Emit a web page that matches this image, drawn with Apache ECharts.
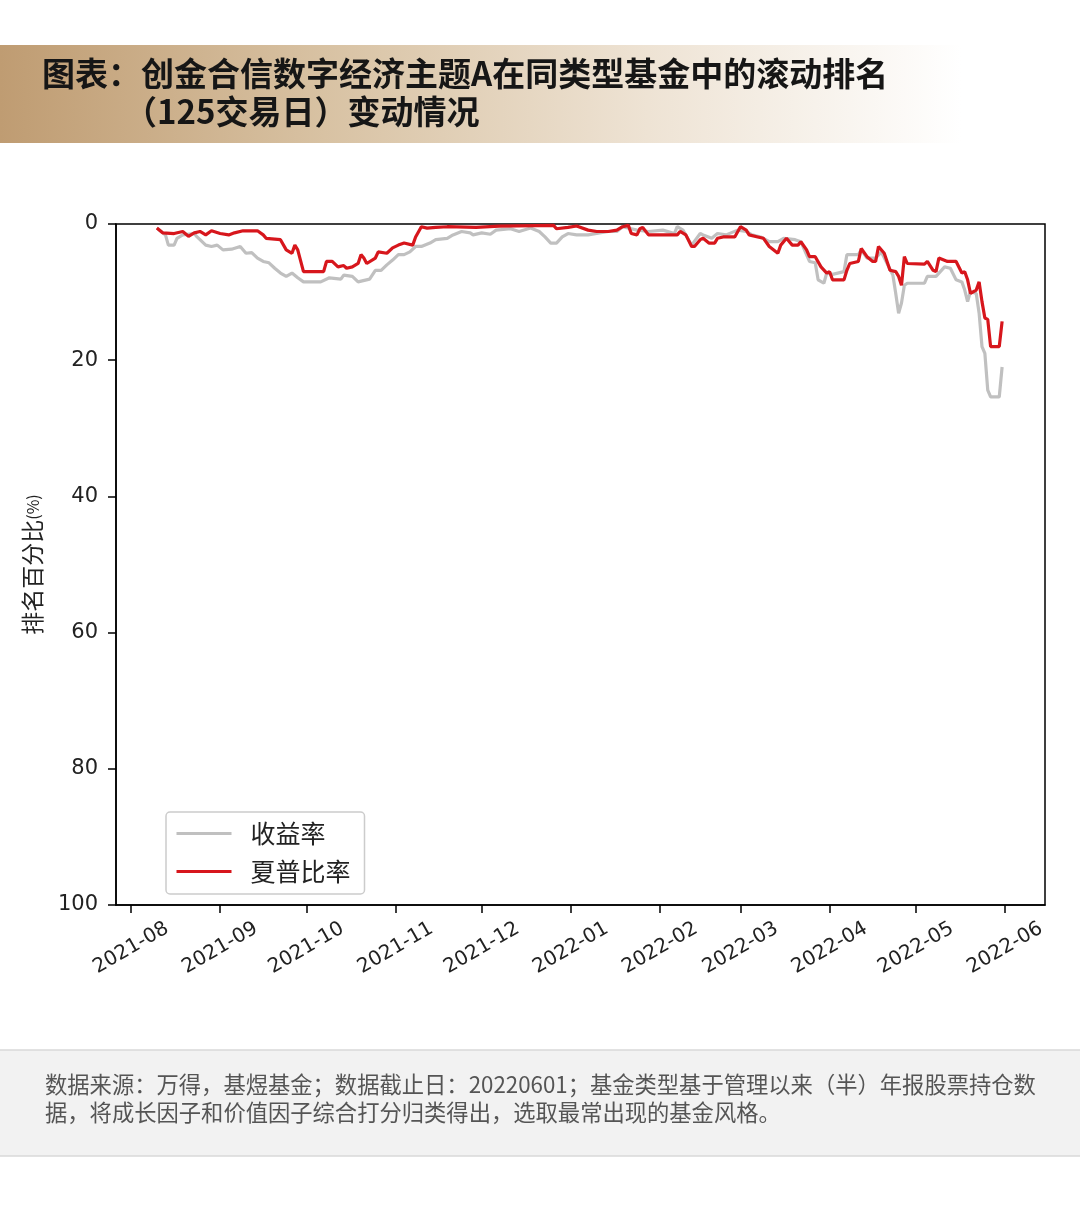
<!DOCTYPE html>
<html>
<head>
<meta charset="utf-8">
<title>滚动排名</title>
<script src="https://cdn.jsdelivr.net/npm/echarts@6/dist/echarts.min.js"></script>
<style>
  html, body { margin: 0; padding: 0; background: #fff; }
  #chart { width: 1080px; height: 1206px; }
</style>
</head>
<body>
<div id="chart"></div>
<script>
// 收益率 排名百分比
const retDates = [
  '2021-08-10','2021-08-13','2021-08-14','2021-08-16','2021-08-17','2021-08-19','2021-08-23','2021-08-24',
  '2021-08-27','2021-08-29','2021-08-31','2021-09-02','2021-09-05','2021-09-08','2021-09-10','2021-09-12',
  '2021-09-14','2021-09-16','2021-09-18','2021-09-20','2021-09-22','2021-09-24','2021-09-26','2021-09-28',
  '2021-09-30','2021-10-06','2021-10-09','2021-10-13','2021-10-14','2021-10-17','2021-10-19','2021-10-23',
  '2021-10-25','2021-10-27','2021-10-29','2021-10-31','2021-11-02','2021-11-04','2021-11-06','2021-11-08',
  '2021-11-10','2021-11-13','2021-11-15','2021-11-19','2021-11-21','2021-11-24','2021-11-27','2021-11-28',
  '2021-12-01','2021-12-04','2021-12-06','2021-12-11','2021-12-14','2021-12-18','2021-12-21','2021-12-23',
  '2021-12-25','2021-12-27','2021-12-29','2021-12-31','2022-01-03','2022-01-07','2022-01-10','2022-01-14',
  '2022-01-17','2022-01-19','2022-01-24','2022-01-28','2022-02-02','2022-02-06','2022-02-07','2022-02-09',
  '2022-02-12','2022-02-15','2022-02-16','2022-02-19','2022-02-21','2022-02-24','2022-02-28','2022-03-03',
  '2022-03-05','2022-03-08','2022-03-11','2022-03-14','2022-03-16','2022-03-20','2022-03-22','2022-03-25',
  '2022-03-27','2022-03-28','2022-03-30','2022-03-31','2022-04-02','2022-04-06','2022-04-07','2022-04-11',
  '2022-04-12','2022-04-14','2022-04-17','2022-04-19','2022-04-21','2022-04-23','2022-04-24','2022-04-25',
  '2022-04-26','2022-04-27','2022-04-28','2022-05-04','2022-05-05','2022-05-08','2022-05-11','2022-05-13',
  '2022-05-15','2022-05-17','2022-05-18','2022-05-19','2022-05-20','2022-05-22','2022-05-23','2022-05-24',
  '2022-05-25','2022-05-26','2022-05-27','2022-05-30','2022-05-31'
];
const retValues = [
  0.6, 1.6, 3.1, 3.1, 2.1, 1.6, 1.4, 1.9,
  3.1, 3.3, 3.1, 3.8, 3.7, 3.3, 4.3, 4.2,
  5.0, 5.5, 5.7, 6.5, 7.2, 7.7, 7.2, 7.9,
  8.5, 8.5, 7.9, 8.1, 7.5, 7.7, 8.5, 8.1,
  6.8, 6.8, 6.0, 5.3, 4.5, 4.5, 4.1, 3.3,
  3.3, 2.8, 2.3, 2.1, 1.6, 1.1, 1.3, 1.6,
  1.3, 1.5, 0.9, 0.7, 1.1, 0.6, 1.1, 1.9,
  2.8, 2.8, 1.9, 1.4, 1.6, 1.6, 1.4, 1.1,
  1.1, 0.4, 0.9, 1.1, 0.9, 1.4, 0.4, 0.9,
  3.1, 1.4, 1.6, 2.1, 1.4, 1.6, 0.9, 1.1,
  1.6, 1.9, 2.6, 2.6, 2.1, 2.3, 2.6, 5.5,
  5.7, 8.2, 8.7, 7.2, 7.4, 7.0, 4.5, 4.5,
  3.8, 5.0, 5.0, 4.1, 5.8, 7.5, 10.2, 13.1,
  11.6, 9.0, 8.7, 8.7, 7.7, 7.7, 6.3, 6.5,
  8.2, 8.5, 9.7, 11.4, 9.9, 10.2, 13.1, 18.0,
  19.0, 24.4, 25.4, 25.4, 21.0
];

// 夏普比率 排名百分比
const sharpeDates = [
  '2021-08-10','2021-08-12','2021-08-16','2021-08-19','2021-08-21','2021-08-23','2021-08-25','2021-08-27',
  '2021-08-29','2021-09-01','2021-09-04','2021-09-06','2021-09-09','2021-09-14','2021-09-16','2021-09-17',
  '2021-09-22','2021-09-24','2021-09-26','2021-09-27','2021-09-28','2021-09-30','2021-10-07','2021-10-08',
  '2021-10-10','2021-10-12','2021-10-14','2021-10-15','2021-10-17','2021-10-19','2021-10-20','2021-10-21',
  '2021-10-22','2021-10-25','2021-10-26','2021-10-29','2021-10-31','2021-11-02','2021-11-04','2021-11-07',
  '2021-11-08','2021-11-10','2021-11-12','2021-11-15','2021-11-19','2021-11-29','2021-12-07','2021-12-26',
  '2021-12-27','2021-12-31','2022-01-03','2022-01-07','2022-01-10','2022-01-14','2022-01-17','2022-01-19',
  '2022-01-21','2022-01-22','2022-01-24','2022-01-25','2022-01-26','2022-01-28','2022-02-01','2022-02-07',
  '2022-02-08','2022-02-10','2022-02-12','2022-02-13','2022-02-15','2022-02-16','2022-02-18','2022-02-20',
  '2022-02-21','2022-02-23','2022-02-27','2022-03-01','2022-03-03','2022-03-04','2022-03-07','2022-03-09',
  '2022-03-11','2022-03-14','2022-03-15','2022-03-17','2022-03-19','2022-03-21','2022-03-22','2022-03-24',
  '2022-03-25','2022-03-27','2022-03-29','2022-03-31','2022-04-01','2022-04-02','2022-04-06','2022-04-07',
  '2022-04-08','2022-04-11','2022-04-12','2022-04-14','2022-04-16','2022-04-17','2022-04-18','2022-04-20',
  '2022-04-22','2022-04-24','2022-04-25','2022-04-26','2022-04-27','2022-04-28','2022-05-04','2022-05-05',
  '2022-05-07','2022-05-08','2022-05-09','2022-05-12','2022-05-15','2022-05-17','2022-05-18','2022-05-19',
  '2022-05-20','2022-05-22','2022-05-23','2022-05-24','2022-05-25','2022-05-26','2022-05-27','2022-05-30',
  '2022-05-31'
];
const sharpeValues = [
  0.6, 1.3, 1.4, 1.1, 1.8, 1.3, 1.1, 1.6,
  1.0, 1.4, 1.6, 1.3, 1.0, 1.0, 1.6, 2.1,
  2.3, 3.8, 4.3, 3.1, 3.8, 7.0, 7.0, 5.5,
  5.5, 6.3, 6.1, 6.5, 6.3, 5.8, 4.5, 5.0,
  5.8, 5.0, 4.1, 4.3, 3.5, 3.1, 2.8, 3.1,
  1.9, 0.4, 0.6, 0.5, 0.4, 0.5, 0.3, 0.2,
  0.7, 0.5, 0.3, 0.9, 1.1, 1.1, 0.9, 0.4,
  0.2, 1.4, 1.6, 0.7, 0.5, 1.6, 1.6, 1.6,
  1.1, 1.6, 3.3, 3.3, 2.3, 2.1, 2.8, 2.8,
  2.1, 1.9, 1.9, 0.4, 0.9, 1.6, 1.9, 2.1,
  3.3, 4.3, 3.1, 2.1, 3.1, 3.1, 2.6, 3.8,
  4.8, 4.8, 6.3, 7.2, 7.0, 8.2, 8.2, 6.8,
  5.8, 5.5, 3.6, 4.8, 5.5, 5.5, 3.3, 4.3,
  6.8, 7.0, 7.7, 9.0, 4.8, 5.8, 5.9, 5.5,
  6.8, 7.0, 5.0, 5.5, 5.5, 7.2, 7.0, 8.2,
  10.2, 9.7, 8.5, 11.4, 13.8, 14.0, 18.0, 18.0,
  14.3
];

const monthTicks = ['2021-08','2021-09','2021-10','2021-11','2021-12','2022-01',
                    '2022-02','2022-03','2022-04','2022-05','2022-06'];

const chart = echarts.init(document.getElementById('chart'));
const toTime = s => +echarts.time.parse(s);
const tickTimes = monthTicks.map(m => toTime(m + '-01'));
const baseFont = 'DejaVu Sans';
const cjkFont = 'Noto Sans CJK SC';

chart.setOption({
  backgroundColor: '#fff',
  animation: false,
  graphic: [
    {
      type: 'rect',
      shape: { x: 0, y: 45, width: 1080, height: 98 },
      style: {
        fill: new echarts.graphic.LinearGradient(0, 0, 1, 0, [
          { offset: 0, color: '#bf9c72' },
          { offset: 0.3, color: '#d8c2a3' },
          { offset: 0.6, color: '#eee3d4' },
          { offset: 0.89, color: '#ffffff' },
          { offset: 1, color: '#ffffff' }
        ])
      }
    },
    {
      type: 'text', left: 42, top: 57,
      style: { text: '图表：创金合信数字经济主题A在同类型基金中的滚动排名', font: 'bold 33px "Noto Sans CJK SC"', fill: '#161616' }
    },
    {
      type: 'text', left: 124, top: 95,
      style: { text: '（125交易日）变动情况', font: 'bold 33px "Noto Sans CJK SC"', fill: '#161616' }
    },
    {
      type: 'rect',
      shape: { x: -2, y: 1050, width: 1084, height: 106 },
      style: { fill: '#f2f2f2', stroke: '#d9d9d9', lineWidth: 1.5 }
    },
    {
      type: 'text', left: 45, top: 1073,
      style: { text: '数据来源：万得，基煜基金；数据截止日：20220601；基金类型基于管理以来（半）年报股票持仓数', font: '22.3px "Noto Sans CJK SC"', fill: '#555' }
    },
    {
      type: 'text', left: 45, top: 1101,
      style: { text: '据，将成长因子和价值因子综合打分归类得出，选取最常出现的基金风格。', font: '22.3px "Noto Sans CJK SC"', fill: '#555' }
    }
  ],
  grid: {
    left: 116, right: 35, top: 224, bottom: 301,
    show: true, borderColor: '#000', borderWidth: 1.5, backgroundColor: 'transparent'
  },
  legend: {
    orient: 'vertical',
    left: 166, top: 812,
    padding: [9, 14, 10, 9],
    itemWidth: 55, itemHeight: 14, itemGap: 13,
    backgroundColor: '#fff',
    borderColor: '#cccccc', borderWidth: 1.5, borderRadius: 4,
    itemStyle: { opacity: 0 },
    lineStyle: { width: 3 },
    textStyle: { fontSize: 25, lineHeight: 24, color: '#222', fontFamily: cjkFont, padding: [0, 0, 0, 14] },
    data: ['收益率', '夏普比率']
  },
  xAxis: {
    type: 'value',
    min: toTime('2021-07-26 19:00:00'),
    max: toTime('2022-06-14 22:00:00'),
    axisLine: { onZero: false, lineStyle: { color: '#000', width: 1.5 } },
    axisTick: { show: true, customValues: tickTimes, length: 8, lineStyle: { color: '#000', width: 1.5 } },
    axisLabel: {
      customValues: tickTimes,
      formatter: v => echarts.time.format(v, '{yyyy}-{MM}', false),
      rotate: 30, align: 'center', verticalAlign: 'middle', margin: 43,
      fontSize: 20, color: '#222', fontFamily: baseFont
    },
    splitLine: { show: false }
  },
  yAxis: {
    type: 'value',
    inverse: true,
    min: 0, max: 100, interval: 20,
    name: '排名百分比{s|(%)}',
    nameLocation: 'middle',
    nameRotate: 90,
    nameGap: 72,
    nameTextStyle: {
      fontSize: 23, color: '#222', fontFamily: cjkFont,
      rich: { s: { fontSize: 16, color: '#222', fontFamily: cjkFont } }
    },
    axisLine: { show: true, onZero: false, lineStyle: { color: '#000', width: 1.5 } },
    axisTick: { show: true, length: 8, lineStyle: { color: '#000', width: 1.5 } },
    axisLabel: { fontSize: 21, color: '#222', margin: 18, fontFamily: baseFont },
    splitLine: { show: false }
  },
  series: [
    {
      name: '收益率',
      type: 'line',
      symbol: 'none',
      data: retDates.map((d, i) => [toTime(d), retValues[i]]),
      lineStyle: { color: '#c0c0c0', width: 3.2 },
      itemStyle: { color: '#c0c0c0' },
      z: 2
    },
    {
      name: '夏普比率',
      type: 'line',
      symbol: 'none',
      data: sharpeDates.map((d, i) => [toTime(d), sharpeValues[i]]),
      lineStyle: { color: '#d7161c', width: 3.2 },
      itemStyle: { color: '#d7161c' },
      z: 3
    }
  ]
});
</script>
</body>
</html>
